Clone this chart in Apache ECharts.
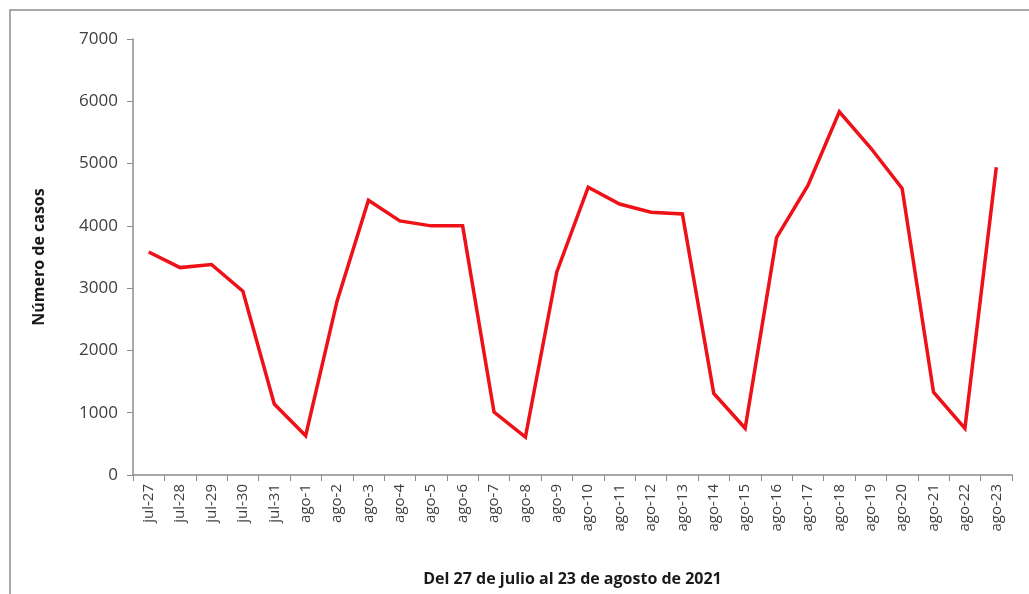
<!DOCTYPE html>
<html>
<head>
<meta charset="utf-8">
<script src="https://cdn.jsdelivr.net/npm/echarts@6/dist/echarts.min.js"></script>
<style>
  html, body { margin: 0; padding: 0; background: #fff; }
  #chart { width: 1029px; height: 594px; }
</style>
</head>
<body>
<div id="chart"></div>
<script>
// fechas del eje x
var fechas = ['jul-27', 'jul-28', 'jul-29', 'jul-30', 'jul-31', 'ago-1', 'ago-2', 'ago-3', 'ago-4', 'ago-5',
    'ago-6', 'ago-7', 'ago-8', 'ago-9', 'ago-10', 'ago-11', 'ago-12', 'ago-13', 'ago-14', 'ago-15',
    'ago-16', 'ago-17', 'ago-18', 'ago-19', 'ago-20', 'ago-21', 'ago-22', 'ago-23'];

// numero de casos por dia
var casos = [3580, 3330, 3380, 2950, 1140, 630, 2790, 4410, 4080, 4000,
    4000, 1010, 610, 3260, 4620, 4350, 4220, 4190, 1310, 750,
    3810, 4650, 5830, 5250, 4600, 1330, 750, 4940];

var ticksY = [0, 1000, 2000, 3000, 4000, 5000, 6000, 7000];

var fuente = '"Open Sans", "Liberation Sans", sans-serif';

var option = {
    animation: false,
    backgroundColor: '#fff',
    graphic: [{
        type: 'rect',
        shape: { x: 10, y: 10, width: 1040, height: 620 },
        style: { fill: 'none', stroke: '#8c8c8c', lineWidth: 1.5 },
        silent: true
    }],
    grid: {
        left: 133,
        right: 17,
        top: 39,
        bottom: 119
    },
    xAxis: {
        type: 'category',
        data: fechas,
        boundaryGap: true,
        name: 'Del 27 de julio al 23 de agosto de 2021',
        nameLocation: 'middle',
        nameGap: 96,
        nameTextStyle: { fontFamily: fuente, fontWeight: 'bold', fontSize: 16, color: '#1a1a1a' },
        axisLine: { lineStyle: { color: '#8c8c8c', width: 1.5 } },
        axisTick: { show: true, inside: false, length: 6, alignWithLabel: false, lineStyle: { color: '#8c8c8c' } },
        axisLabel: {
            rotate: 90,
            interval: 0,
            fontFamily: fuente,
            fontSize: 15,
            color: '#404040',
            margin: 9
        },
        splitLine: { show: false }
    },
    yAxis: {
        type: 'value',
        min: ticksY[0],
        max: ticksY[ticksY.length - 1],
        interval: 1000,
        name: 'Número de casos',
        nameLocation: 'middle',
        nameGap: 86,
        nameRotate: 90,
        nameTextStyle: { fontFamily: fuente, fontWeight: 'bold', fontSize: 16, color: '#1a1a1a' },
        axisLine: { show: true, lineStyle: { color: '#8c8c8c', width: 1.5 } },
        axisTick: { show: true, inside: false, length: 6, lineStyle: { color: '#8c8c8c' } },
        axisLabel: {
            fontFamily: fuente,
            fontSize: 17,
            color: '#404040',
            margin: 15,
            formatter: function (v) { return String(v); }
        },
        splitLine: { show: false }
    },
    series: [{
        name: 'Casos',
        type: 'line',
        data: casos,
        showSymbol: false,
        symbol: 'none',
        lineStyle: { color: '#ee1118', width: 3.5, join: 'miter' }
    }]
};

echarts.init(document.getElementById('chart')).setOption(option);
</script>
</body>
</html>
